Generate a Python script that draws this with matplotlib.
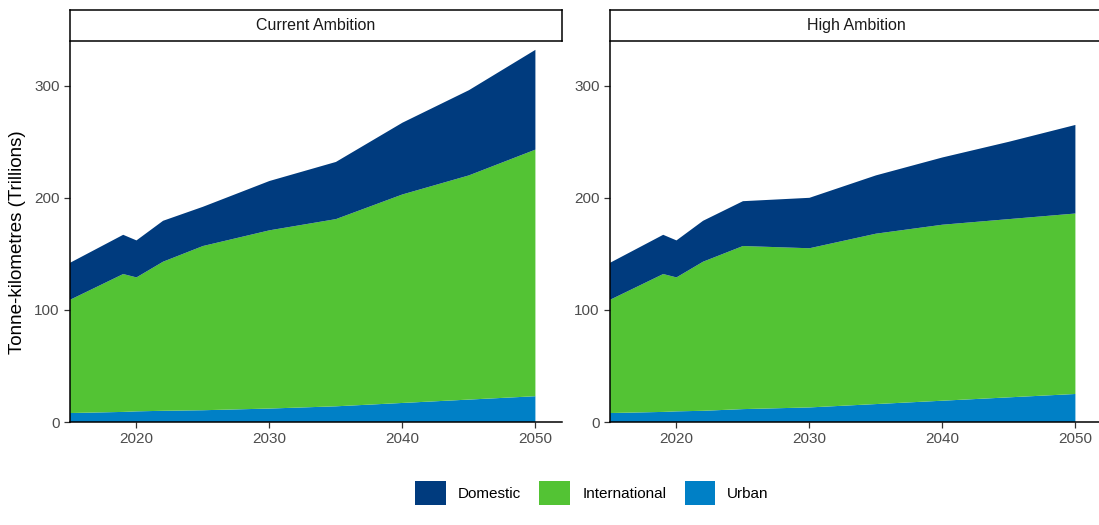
import numpy as np
from matplotlib import pyplot as plt
from matplotlib.patches import Patch

years = [2015, 2019, 2020, 2022, 2025, 2030, 2035, 2040, 2045, 2050]
scenarios = ['Current Ambition', 'High Ambition']

# tonne-km in trillions, by segment
urban_current = [8, 9, 9.5, 10, 10.5, 12, 14, 17, 20, 23]
international_current = [101, 123, 119.5, 133, 146.5, 159, 167, 186, 200, 220]
domestic_current = [33, 35, 33, 36.5, 35, 44, 51, 64, 76, 89]

urban_high = [8, 9, 9.5, 10, 11.5, 13, 16, 19, 22, 25]
international_high = [101, 123, 119.5, 133, 145.5, 142, 152, 157, 159, 161]
domestic_high = [33, 35, 33, 36.5, 40, 45, 52, 60, 69, 79]

segments = ['Domestic', 'International', 'Urban']
colors = {'Domestic': '#003B7E', 'International': '#53C334', 'Urban': '#0080C6'}

plt.rcParams['font.family'] = ['Liberation Sans', 'DejaVu Sans']

fig = plt.figure(figsize=(10.99, 5.25), dpi=100)
W, H = 1099, 525

panels = [
    (70, urban_current, international_current, domestic_current),
    (610, urban_high, international_high, domestic_high),
]
w = 492

for (x0, urb, intl, dom), title in zip(panels, scenarios):
    ax = fig.add_axes([x0 / W, (H - 422) / H, w / W, 380 / H])
    # stacked from the bottom: urban, international, domestic
    ax.stackplot(years, urb, intl, dom,
                 colors=[colors['Urban'], colors['International'], colors['Domestic']],
                 linewidth=0)
    ax.set_xlim(2015, 2052)
    ax.set_ylim(0, 339)
    ax.set_xticks([2020, 2030, 2040, 2050])
    ax.set_yticks([0, 100, 200, 300])
    for side in ['top', 'right']:
        ax.spines[side].set_visible(False)
    for side in ['left', 'bottom']:
        ax.spines[side].set_linewidth(1.1)
        ax.spines[side].set_color('black')
    ax.tick_params(labelsize=11, labelcolor='#4D4D4D', length=4, width=0.9, color='#333333')

    strip = fig.add_axes([x0 / W, (H - 41) / H, w / W, 31 / H])
    strip.set_xticks([])
    strip.set_yticks([])
    for s in strip.spines.values():
        s.set_linewidth(1.1)
        s.set_color('black')
    strip.text(0.5, 0.5, title, ha='center', va='center', fontsize=11.5, color='#1A1A1A')

fig.text(18 / W, (H - 242) / H, 'Tonne-kilometres (Trillions)', rotation=90,
         ha='center', va='center', fontsize=13.5)

handles = [Patch(facecolor=colors[s], edgecolor='none', label=s) for s in segments]
fig.legend(handles=handles, loc='center', bbox_to_anchor=(592 / W, (H - 493) / H),
           ncol=3, frameon=False, fontsize=11, handlelength=2.0, handleheight=2.0,
           handletextpad=0.8, columnspacing=1.2)

fig.savefig('out.png', dpi=100)
